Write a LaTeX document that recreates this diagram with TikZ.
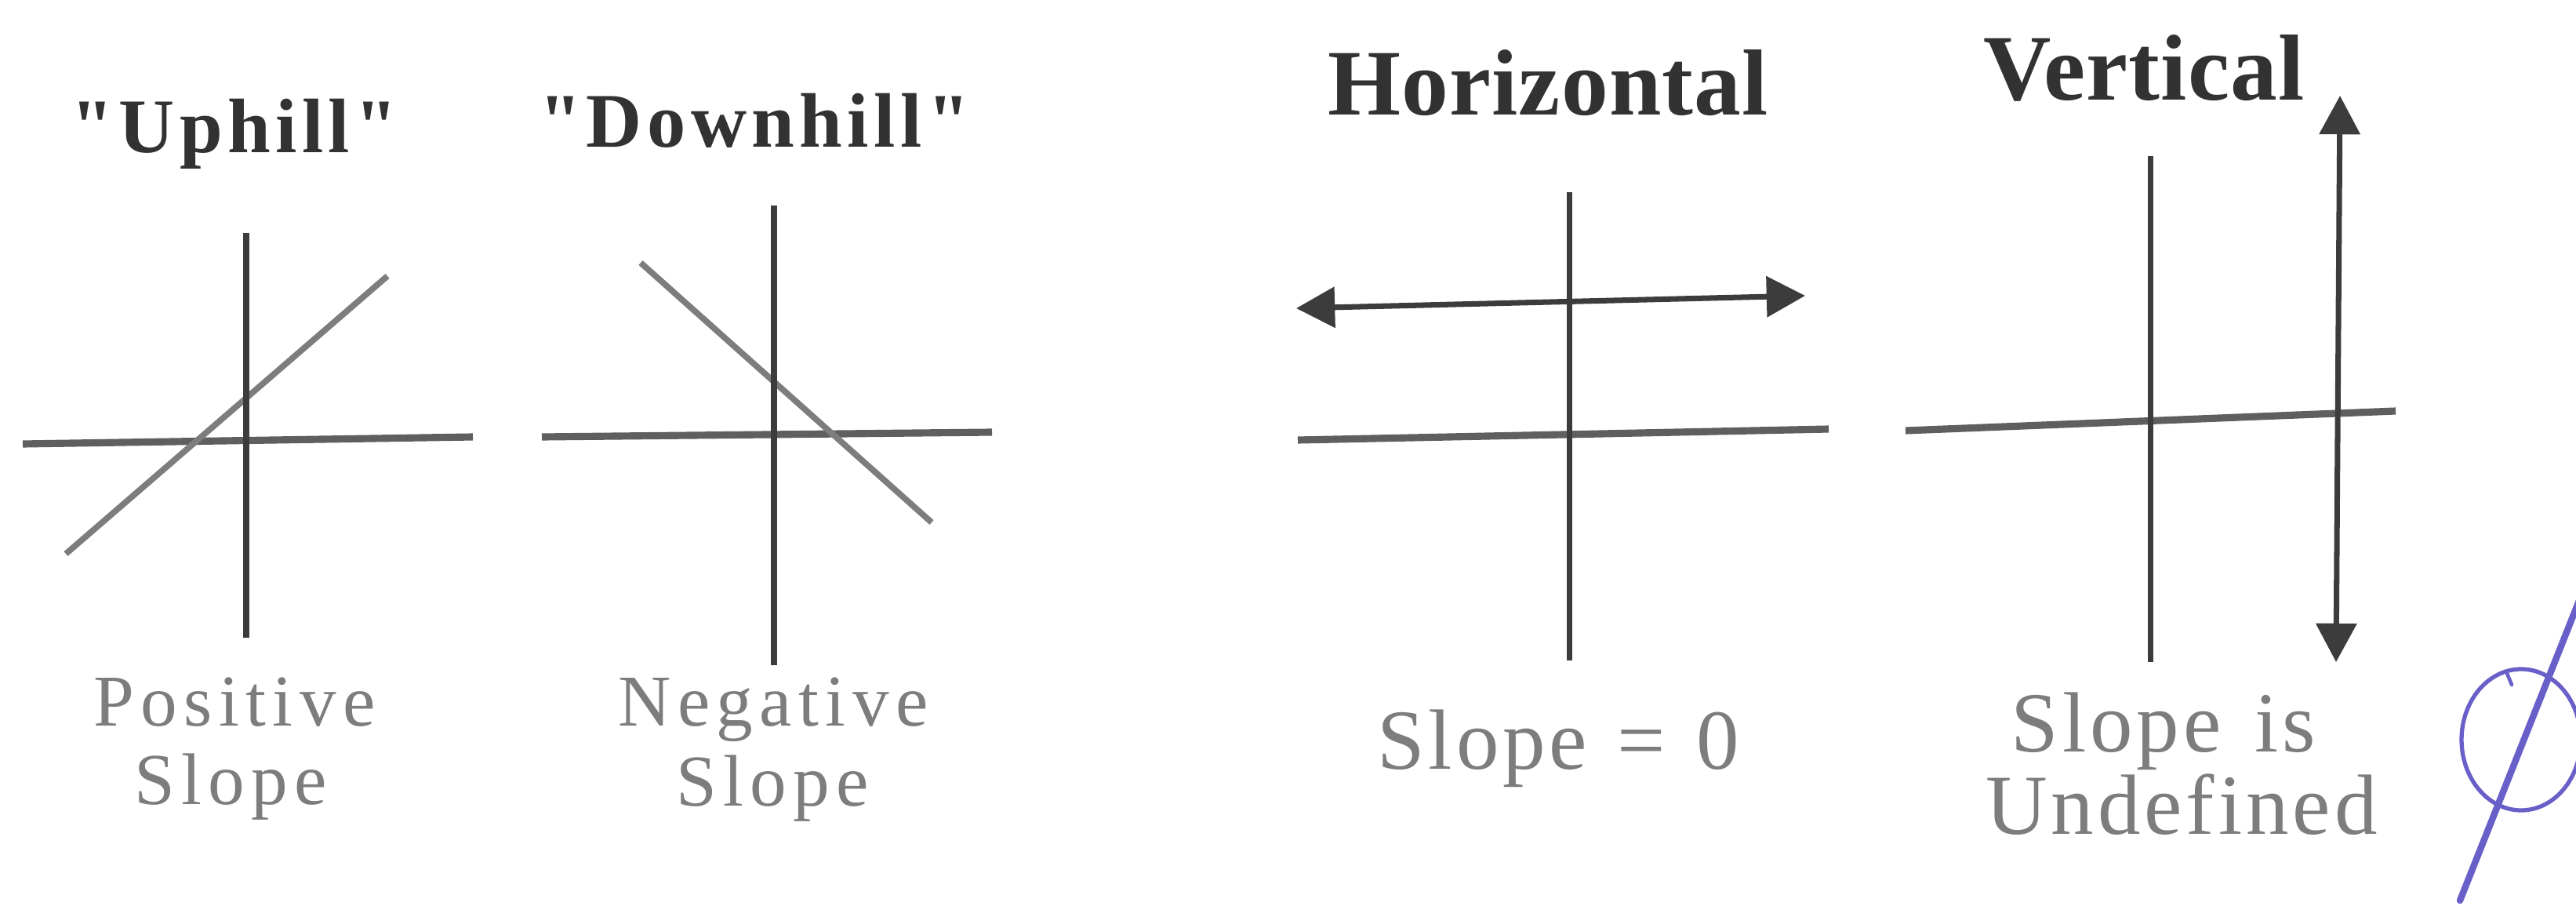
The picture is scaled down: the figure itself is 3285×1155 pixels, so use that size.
\documentclass[tikz,border=0pt]{standalone}
\usepackage{fontspec}
\setmainfont{Liberation Serif}
\newfontfamily\plainserif{Liberation Serif}
\usetikzlibrary{arrows.meta}
\definecolor{titlec}{RGB}{50,50,50}
\definecolor{labc}{RGB}{125,125,125}
\definecolor{axc}{RGB}{60,60,60}
\definecolor{haxc}{RGB}{95,95,95}
\definecolor{diagc}{RGB}{125,125,125}
\definecolor{penblue}{RGB}{105,95,200}
\begin{document}
\begin{tikzpicture}[x=0.01cm,y=-0.01cm,
 title/.style={font=\plainserif\bfseries\fontsize{28}{28}\selectfont\addfontfeatures{LetterSpace=6.5}, text=titlec, anchor=base, inner sep=0},
 bigtitle/.style={font=\plainserif\bfseries\fontsize{34}{34}\selectfont\addfontfeatures{LetterSpace=1}, text=titlec, anchor=base, inner sep=0},
 lab/.style={font=\fontsize{26.5}{26.5}\selectfont\addfontfeatures{LetterSpace=9}, text=labc, anchor=base, inner sep=0},
 biglab/.style={font=\fontsize{31}{31}\selectfont\addfontfeatures{LetterSpace=4.5}, text=labc, anchor=base, inner sep=0},
 vaxis/.style={draw=axc, line width=2pt},
 haxis/.style={draw=haxc, line width=2.6pt},
 slopeline/.style={draw=diagc, line width=2.2pt},
 dbl/.style={draw=axc, line width=2pt, {Triangle[length=14pt,width=14.5pt]}-{Triangle[length=14pt,width=14.5pt]}},
 pen/.style={draw=penblue, line cap=round, line join=round}
]
\useasboundingbox (0,0) rectangle (3285,1155);
\fill[white] (0,0) rectangle (3285,1155);

% ---- Uphill ----
\node[title] (t1) at (299,195) {"Uphill"};
\draw[haxis] (29,566) -- (603,557);
\draw[slopeline] (84,706) -- (494,352);
\draw[vaxis] (314,297) -- (314,813);
\node[lab] (l1a) at (299,925) {Positive};
\node[lab] (l1b) at (294,1025) {Slope};

% ---- Downhill ----
\node[title] (t2) at (962,188) {"Downhill"};
\draw[haxis] (691,557) -- (1265,551);
\draw[slopeline] (817,335) -- (1188,666);
\draw[vaxis] (987,262) -- (987,848);
\node[lab] (l2a) at (986,925) {Negative};
\node[lab] (l2b) at (985,1027) {Slope};

% ---- Horizontal ----
\node[bigtitle] (t3) at (1974,147) {Horizontal};
\draw[haxis] (1655,561) -- (2332,547);
\draw[vaxis] (2001,245) -- (2001,842);
\draw[dbl] (1653,393) -- (2302,377);
\node[biglab] (l3) at (1987,980) {Slope\hspace{11pt}=\hspace{11pt}0};

% ---- Vertical ----
\node[bigtitle] (t4) at (2734,128) {Vertical};
\draw[haxis] (2430,549) -- (3055,524);
\draw[vaxis] (2742,199) -- (2742,844);
\draw[dbl] (2984,122) -- (2979,844);
\node[biglab] (l4a) at (2759,958) {Slope\hspace{3pt} is};
\node[biglab] (l4b) at (2782,1063) {Undefined};

% ---- handwritten empty-set mark ----
\draw[pen, line width=1.5pt] (3215,943) ellipse [x radius=76, y radius=90];
\draw[pen, line width=1.3pt] (3196,856) -- (3203,873);
\draw[pen, line width=2.4pt] (3137,1148) -- (3300,738);
\end{tikzpicture}
\end{document}
